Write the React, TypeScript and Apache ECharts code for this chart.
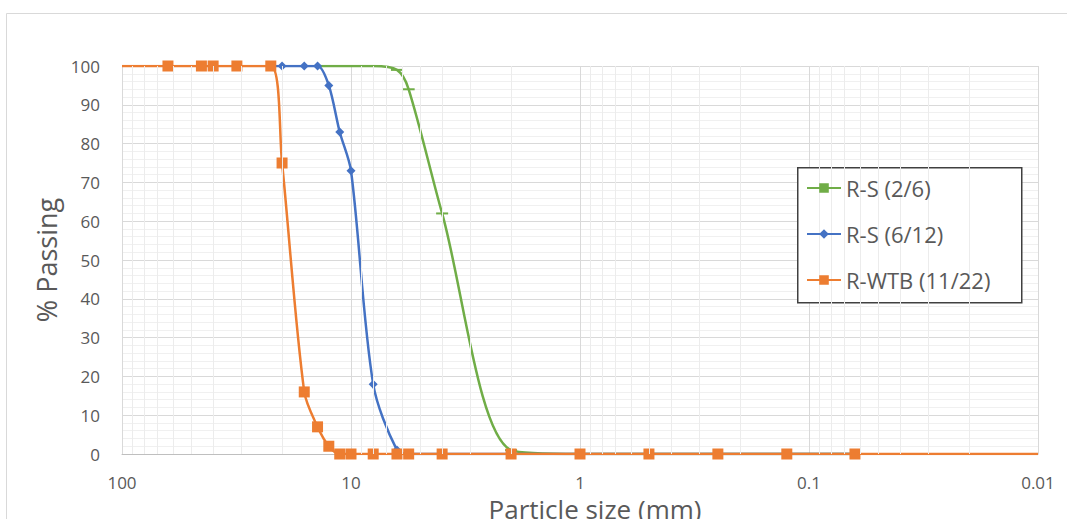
import React, { useEffect, useRef } from "react";
import * as echarts from "echarts";

// Sieve sizes (mm) and % passing for each sample
const rs26Sizes = [14, 12.5, 11.2, 10, 8, 6.3, 5.6, 4, 2, 1, 0.5, 0.25, 0.125, 0.063];
const rs26Pass = [100, 100, 100, 100, 100, 99, 94, 62, 1, 0, 0, 0, 0, 0];

const rs612Sizes = [22.4, 20, 16, 14, 12.5, 11.2, 10, 8, 6.3, 5.6, 4, 2, 1, 0.5, 0.25, 0.125, 0.063];
const rs612Pass = [100, 100, 100, 100, 95, 83, 73, 18, 1, 0, 0, 0, 0, 0, 0, 0, 0];

const wtbSizes = [100, 63, 45, 40, 31.5, 22.4, 20, 16, 14, 12.5, 11.2, 10, 8, 6.3, 5.6, 4, 2, 1, 0.5, 0.25, 0.125, 0.063, 0.01];
const wtbPass = [100, 100, 100, 100, 100, 100, 75, 16, 7, 2, 0, 0, 0, 0, 0, 0, 0, 0, 0, 0, 0, 0, 0];
// points drawn without a marker (line ends)
const wtbNoMarker = [100, 0.01];

const seriesNames = ["R-S (2/6)", "R-S (6/12)", "R-WTB (11/22)"];
const xTickLabels = ["100", "10", "1", "0.1", "0.01"];
const decades = [0.01, 0.1, 1, 10];
const minorMultipliers = [2, 3, 4, 5, 6, 7, 8, 9];

export default function App() {
  const ref = useRef<HTMLDivElement>(null);

  useEffect(() => {
    if (!ref.current) return;
    const chart = echarts.init(ref.current, undefined, { renderer: "svg" });

    const minorX: any[] = [];
    decades.forEach((d) => minorMultipliers.forEach((m) => minorX.push({ xAxis: +(d * m).toPrecision(3) })));

    const labelColor = "#595959";
    const font = "Open Sans, Noto Sans, sans-serif";

    chart.setOption({
      animation: false,
      backgroundColor: "#ffffff",
      textStyle: { fontFamily: font },
      grid: { left: 122, right: 29, top: 66, bottom: 65, containLabel: false, outerBoundsMode: "none" },
      xAxis: {
        type: "log",
        logBase: 10,
        min: 0.01,
        max: 100,
        inverse: true,
        name: "Particle size (mm)",
        nameLocation: "middle",
        nameGap: 42,
        nameTextStyle: { fontSize: 26, lineHeight: 24, color: labelColor, fontFamily: font, padding: [0, 0, 0, 30] },
        axisLine: { show: true, lineStyle: { color: "#bfbfbf", width: 1 } },
        axisTick: { show: false },
        axisLabel: {
          color: labelColor,
          fontSize: 17,
          margin: 20,
          formatter: (v: number) => {
            const s = String(+v.toPrecision(3));
            return xTickLabels.includes(s) ? s : "";
          },
        },
        splitLine: { show: true, lineStyle: { color: "#d9d9d9", width: 1 } },
      },
      yAxis: {
        type: "value",
        min: 0,
        max: 100,
        interval: 10,
        name: "% Passing",
        nameLocation: "middle",
        nameGap: 62,
        nameTextStyle: { fontSize: 27, color: labelColor, fontFamily: font },
        axisLine: { show: false },
        axisTick: { show: false },
        axisLabel: { color: labelColor, fontSize: 17, margin: 22 },
        splitLine: { show: true, lineStyle: { color: "#d9d9d9", width: 1 } },
        minorTick: { show: false, splitNumber: 5 },
        minorSplitLine: { show: true, lineStyle: { color: "#f0f0f0", width: 1 } },
      },
      legend: {
        orient: "vertical",
        left: 806,
        top: 176,
        padding: 0,
        itemWidth: 34,
        itemHeight: 12,
        itemGap: 22,
        data: seriesNames,
        textStyle: { fontSize: 22, color: labelColor, lineHeight: 24, fontFamily: font },
        z: 10,
      },
      graphic: [
        {
          type: "rect",
          left: 4,
          top: 11,
          shape: { x: 0, y: 0, width: 1100, height: 600 },
          style: { fill: "none", stroke: "#d9d9d9", lineWidth: 1 },
          silent: true,
          z: 0,
        },
        {
          type: "rect",
          left: 797,
          top: 167,
          shape: { x: 0, y: 0, width: 224, height: 135 },
          style: { fill: "#ffffff", stroke: "#404040", lineWidth: 1.5 },
          silent: true,
          z: 3,
        },
      ],
      series: [
        {
          name: "minor-grid",
          type: "line",
          data: [],
          silent: true,
          z: 1,
          markLine: {
            silent: true,
            symbol: "none",
            label: { show: false },
            lineStyle: { color: "#ececec", width: 1, type: "solid" },
            data: minorX,
          },
        },
        {
          name: seriesNames[0],
          type: "line",
          data: rs26Sizes.map((s, i) => [s, rs26Pass[i]]),
          smooth: 0.3,
          symbol: "rect",
          symbolSize: [12, 2],
          itemStyle: { color: "#70AD47" },
          lineStyle: { color: "#70AD47", width: 2.5 },
          z: 2,
        },
        {
          name: seriesNames[1],
          type: "line",
          data: rs612Sizes.map((s, i) => [s, rs612Pass[i]]),
          smooth: 0.3,
          symbol: "diamond",
          symbolSize: 9,
          itemStyle: { color: "#4472C4" },
          lineStyle: { color: "#4472C4", width: 2.5 },
          z: 3,
        },
        {
          name: seriesNames[2],
          type: "line",
          data: wtbSizes.map((s, i) =>
            wtbNoMarker.includes(s)
              ? { value: [s, wtbPass[i]], symbol: "none" }
              : { value: [s, wtbPass[i]] }
          ),
          smooth: 0.3,
          symbol: "rect",
          symbolSize: 11,
          itemStyle: { color: "#ED7D31" },
          lineStyle: { color: "#ED7D31", width: 2.5 },
          z: 4,
        },
      ],
    });

    return () => chart.dispose();
  }, []);

  return (
    <div
      ref={ref}
      style={{ position: "fixed", left: 0, top: 0, width: 1067, height: 519 }}
    />
  );
}
